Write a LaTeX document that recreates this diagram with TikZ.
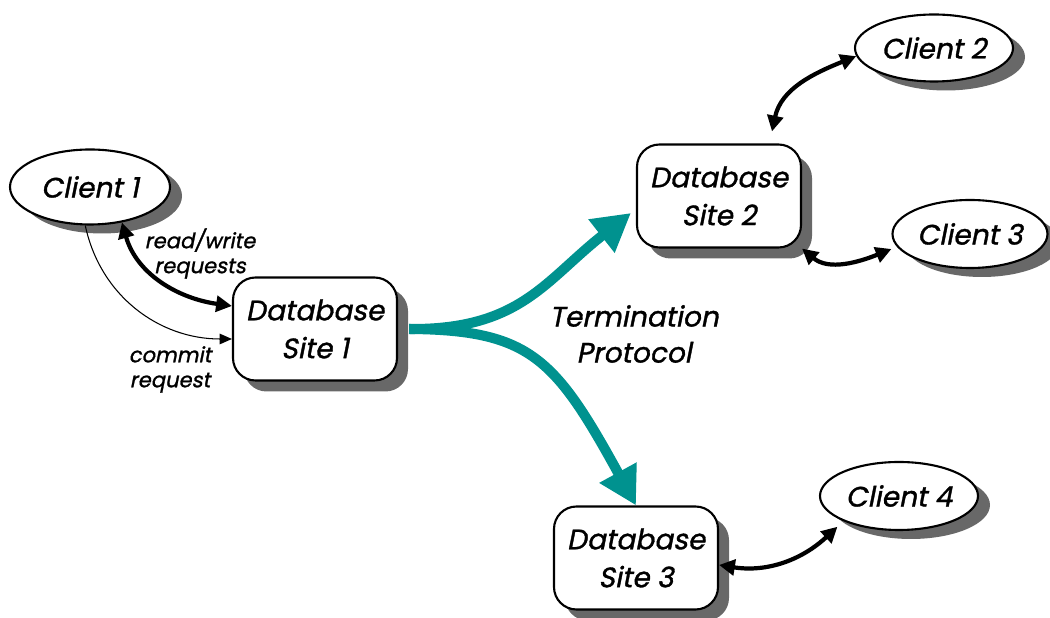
\documentclass[tikz,border=0pt]{standalone}
\usepackage{fontspec}
\newfontfamily\gothic{Poppins}[FakeSlant=0.2, FakeBold=1.2]
\usetikzlibrary{shapes.geometric,shadows,arrows.meta}
\definecolor{shade}{RGB}{104,104,104}
\definecolor{protocol}{RGB}{0,146,143}
\tikzstyle{site}=[draw, line width=1.2pt, fill=white, rounded corners=0.45cm, minimum width=3.28cm, minimum height=2.06cm, align=center, font=\gothic\fontsize{16}{21.6}\selectfont, drop shadow={shadow xshift=.22cm, shadow yshift=-.22cm, fill=shade, opacity=1}]
\tikzstyle{client}=[draw, ellipse, line width=1.2pt, fill=white, inner sep=0pt, minimum width=3.16cm, minimum height=1.36cm, font=\gothic\fontsize{16}{20}\selectfont, drop shadow={shadow xshift=.24cm, shadow yshift=-.18cm, fill=shade, opacity=1}]
\tikzstyle{link}=[line width=2.4pt, {Triangle[length=9pt,width=9pt]}-{Triangle[length=9pt,width=9pt]}]
\tikzstyle{protocolarrow}=[protocol, line width=5.7pt, -{Triangle[length=0.75cm,width=0.8cm]}]
\tikzstyle{note}=[align=center, font=\gothic\fontsize{12}{14.2}\selectfont]

\begin{document}
\begin{tikzpicture}
	\useasboundingbox (0,0) rectangle (21,12.36);
	\node[client, minimum width=3.2cm, minimum height=1.5cm] (c1) at (1.80,8.62) {Client 1};
	\node[site] (db1) at (6.30,5.78) {Database\\Site 1};
	\node[site] (db2) at (14.38,8.44) {Database\\Site 2};
	\node[site] (db3) at (12.72,1.20) {Database\\Site 3};
	\node[client, minimum height=1.34cm] (c2) at (18.68,11.40) {Client 2};
	\node[client, minimum width=3.1cm] (c3) at (19.40,7.68) {Client 3};
	\node[client] (c4) at (17.98,2.44) {Client 4};
	\draw[link] (c1.-48) to[out=-74, in=172] ([yshift=.46cm]db1.west);
	\draw[line width=.6pt, -{Triangle[length=7pt,width=6pt]}] (c1.-97) to[out=-78, in=180] ([yshift=-.2cm]db1.west);
	\node[note] (rw) at (4.0,7.29) {read/write\\requests};
	\node[note] (commit) at (3.4,4.97) {commit\\request};
	\draw[protocolarrow] ([xshift=.22cm]db1.east) .. controls (10.4,5.76) and (10.9,6.75) .. ([shift={(-.1,-.34)}]db2.west);
	\draw[protocolarrow] ([xshift=.22cm]db1.east) .. controls (10.6,5.76) and (11.1,5.2) .. (db3.north);
	\node[align=center, font=\gothic\fontsize{16}{20.5}\selectfont] (term) at (12.68,5.68) {Termination\\Protocol};
	\draw[link] ([shift={(1.06,.24)}]db2.north) to[out=78, in=202] (c2.186);
	\draw[link] (db2.south east) to[out=-40, in=202] ([yshift=-.3cm]c3.west);
	\draw[link] ([yshift=-.14cm]db3.east) to[out=-9, in=223] ([shift={(-.1,-.12)}]c4.south west);
\end{tikzpicture}
\end{document}
